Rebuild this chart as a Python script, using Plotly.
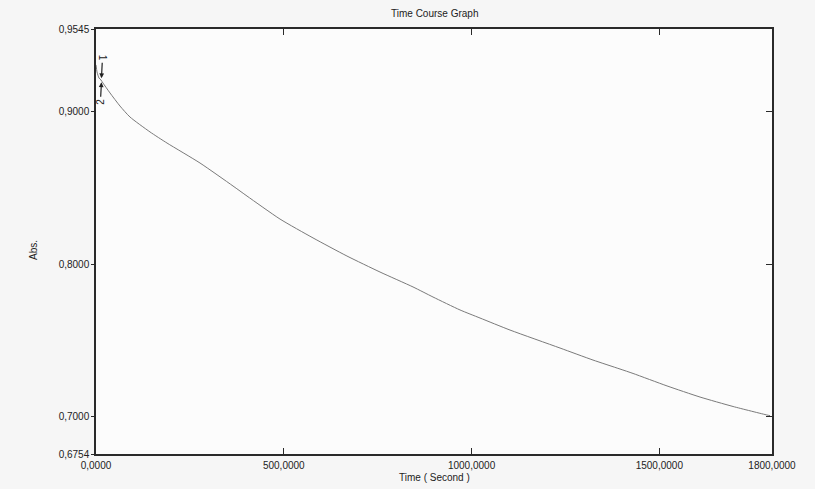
import plotly.graph_objects as go

# ---- data ----
time_s = [0, 2.7, 8.0, 13.3, 18.6, 37.3, 63.9, 90.5, 143.8, 189.1, 276.9, 364.8,
          402.1, 489.9, 577.8, 668.3, 756.2, 844.1, 897.3, 969.2, 1022.5, 1102.4,
          1235.5, 1323.4, 1395.3, 1430.0, 1520.5, 1608.4, 1696.3, 1786.8, 1794.8]
absorb = [0.9309, 0.9263, 0.9223, 0.9210, 0.9190, 0.9125, 0.9039, 0.8967, 0.8869,
          0.8796, 0.8665, 0.8514, 0.8448, 0.8297, 0.8173, 0.8054, 0.7949, 0.7851,
          0.7785, 0.7700, 0.7647, 0.7568, 0.7450, 0.7371, 0.7312, 0.7283, 0.7201,
          0.7128, 0.7066, 0.7010, 0.7006]

x_ticks = [0, 500, 1000, 1500, 1800]
x_ticktext = ["0,0000", "500,0000", "1000,0000", "1500,0000", "1800,0000"]
y_range = [0.6754, 0.9545]
y_ticks = [0.6754, 0.7, 0.8, 0.9, 0.9545]
y_ticktext = ["0,6754", "0,7000", "0,8000", "0,9000", "0,9545"]
right_ticks = [0.7, 0.8, 0.9]

cursor_labels = ["1", "2"]
cursor_x = [14.5, 14.5]
cursor_y = [0.9222, 0.9195]

FONT = "Liberation Sans, Arial, sans-serif"
AX = "#2a2a2a"

fig = go.Figure()
fig.add_trace(go.Scatter(x=time_s, y=absorb, mode="lines",
                         line=dict(color="#7a7a7a", width=1, shape="spline", smoothing=0.6),
                         showlegend=False, hoverinfo="skip"))
# invisible copy so the right-hand axis is drawn
fig.add_trace(go.Scatter(x=time_s, y=absorb, mode="lines", yaxis="y2",
                         line=dict(color="rgba(0,0,0,0)", width=0),
                         showlegend=False, hoverinfo="skip"))

fig.update_layout(
    width=815, height=489,
    margin=dict(l=96, r=43, t=29, b=35),
    paper_bgcolor="#f6f6f6", plot_bgcolor="#fcfcfc",
    font=dict(family=FONT, size=10, color="#222"),
    xaxis=dict(range=[0, 1800], tickvals=x_ticks, ticktext=x_ticktext,
               ticks="inside", ticklen=6, tickcolor=AX, tickwidth=1,
               showline=True, linecolor=AX, linewidth=1.5, mirror="ticks",
               showgrid=False, zeroline=False, tickfont=dict(size=10),
               ticklabelstandoff=1),
    yaxis=dict(range=y_range, tickvals=y_ticks, ticktext=y_ticktext,
               ticks="outside", ticklen=3, tickcolor=AX, tickwidth=1,
               showline=True, linecolor=AX, linewidth=1.5, mirror=True,
               showgrid=False, zeroline=False, tickfont=dict(size=10)),
    yaxis2=dict(range=y_range, overlaying="y", side="right", tickvals=right_ticks,
                ticks="inside", ticklen=6, tickcolor=AX, tickwidth=1,
                showticklabels=False, showline=True, linecolor=AX, linewidth=1.5,
                showgrid=False, zeroline=False),
    showlegend=False,
)

fig.add_annotation(text="Time Course Graph", xref="paper", yref="paper",
                   x=0.5, y=1, yshift=16, showarrow=False,
                   font=dict(size=10), xanchor="center", yanchor="middle")
fig.add_annotation(text="Time ( Second )", xref="paper", yref="paper",
                   x=0.5, y=0, yshift=-23, showarrow=False,
                   font=dict(size=10), xanchor="center", yanchor="middle")
fig.add_annotation(text="Abs.", xref="paper", yref="paper",
                   x=0, xshift=-63, y=0.48, showarrow=False, textangle=-90,
                   font=dict(size=10), xanchor="center", yanchor="middle")

for lab, cx, cy, dy, ang in zip(cursor_labels, cursor_x, cursor_y, [-20, 19], [90, -90]):
    fig.add_annotation(text=lab, x=cx, y=cy, ax=1 if lab == "1" else -1, ay=dy,
                       showarrow=True, arrowhead=2, arrowsize=0.8, arrowwidth=1.2,
                       arrowcolor="#222", textangle=ang,
                       font=dict(size=10, color="#222"))

fig.write_html("out.html", config={"displayModeBar": False},
               post_script="document.body.style.margin='0';")
